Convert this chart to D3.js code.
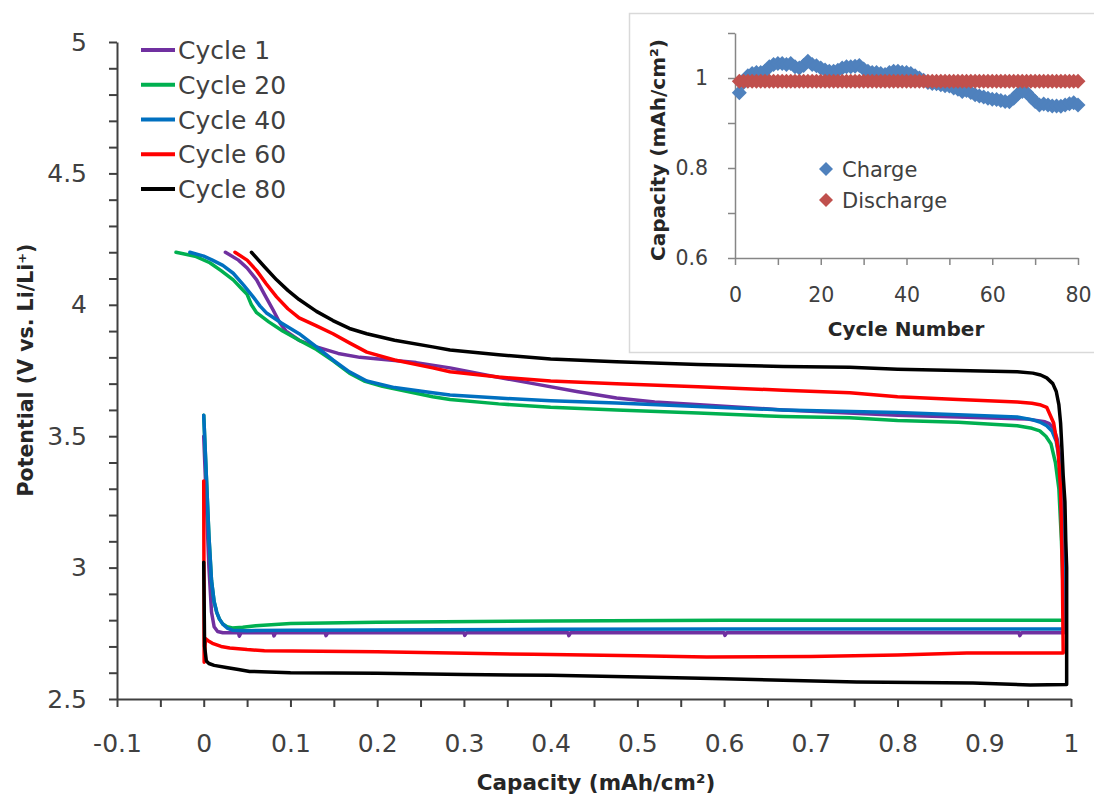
<!DOCTYPE html>
<html>
<head>
<meta charset="utf-8">
<script src="https://cdn.jsdelivr.net/npm/d3@7"></script>
<style>
  body { margin: 0; background: #fff; }
  svg { display: block; }
</style>
</head>
<body>
<svg id="chart" width="1094" height="797"></svg>
<script>
// ---- Voltage profiles: capacity (mAh/cm²) and potential (V vs. Li/Li⁺) ----
// Each profile runs down the discharge plateau, up the right edge, then back along the charge curve.
const cycleNames = ["Cycle 1", "Cycle 20", "Cycle 40", "Cycle 60", "Cycle 80"];
const cycleColors = ["#7030A0", "#00B050", "#0070C0", "#FF0000", "#000000"];

const cycle1Capacity = [0, 0.003, 0.006, 0.009, 0.012, 0.016, 0.022, 0.04, 0.041, 0.043, 0.08, 0.081, 0.083, 0.14, 0.141, 0.143, 0.2, 0.3, 0.301, 0.303, 0.42, 0.421, 0.423, 0.55, 0.6, 0.601, 0.603, 0.75, 0.9, 0.94, 0.941, 0.943, 0.992,
  0.9915, 0.991, 0.988, 0.984, 0.98, 0.975, 0.97, 0.95, 0.9, 0.8, 0.668, 0.572, 0.52, 0.476, 0.43, 0.38, 0.33, 0.284, 0.245, 0.18, 0.155, 0.13, 0.11, 0.095, 0.088, 0.08, 0.07, 0.061, 0.05, 0.04, 0.025];
const cycle1Potential = [3.50, 3.25, 3.0, 2.83, 2.775, 2.757, 2.752, 2.752, 2.739, 2.752, 2.752, 2.74, 2.752, 2.752, 2.741, 2.752, 2.752, 2.752, 2.742, 2.752, 2.752, 2.741, 2.752, 2.752, 2.752, 2.742, 2.752, 2.752, 2.752, 2.752, 2.741, 2.752, 2.752,
  3.0, 3.2, 3.4, 3.49, 3.53, 3.548, 3.555, 3.565, 3.57, 3.58, 3.60, 3.62, 3.63, 3.645, 3.67, 3.70, 3.73, 3.76, 3.78, 3.80, 3.815, 3.84, 3.865, 3.90, 3.93, 3.98, 4.04, 4.095, 4.14, 4.17, 4.20];

const cycle20Capacity = [0, 0.003, 0.006, 0.009, 0.012, 0.015, 0.018, 0.022, 0.027, 0.033, 0.045, 0.06, 0.1, 0.2, 0.4, 0.6, 0.8, 0.992,
  0.991, 0.989, 0.986, 0.982, 0.977, 0.971, 0.964, 0.955, 0.938, 0.87, 0.8, 0.745, 0.668, 0.57, 0.476, 0.4, 0.34, 0.284, 0.264, 0.235, 0.206, 0.185, 0.168, 0.15, 0.13, 0.11, 0.091, 0.075, 0.061, 0.055, 0.05, 0.044, 0.034, 0.02, 0.007, -0.01, -0.032];
const cycle20Potential = [3.58, 3.35, 3.12, 2.95, 2.87, 2.83, 2.805, 2.785, 2.775, 2.77, 2.773, 2.779, 2.787, 2.792, 2.797, 2.80, 2.80, 2.80,
  2.9, 3.1, 3.3, 3.40, 3.47, 3.50, 3.52, 3.53, 3.54, 3.553, 3.56, 3.57, 3.575, 3.588, 3.60, 3.61, 3.623, 3.64, 3.65, 3.67, 3.69, 3.71, 3.74, 3.785, 3.83, 3.865, 3.90, 3.935, 3.97, 4.0, 4.04, 4.06, 4.095, 4.13, 4.16, 4.185, 4.20];

const cycle40Capacity = [0, 0.003, 0.006, 0.009, 0.012, 0.015, 0.018, 0.022, 0.027, 0.033, 0.05, 0.1, 0.2, 0.4, 0.6, 0.8, 0.992,
  0.991, 0.989, 0.987, 0.983, 0.978, 0.972, 0.964, 0.955, 0.938, 0.87, 0.8, 0.668, 0.57, 0.476, 0.4, 0.34, 0.284, 0.264, 0.22, 0.188, 0.168, 0.149, 0.13, 0.11, 0.09, 0.072, 0.065, 0.057, 0.046, 0.034, 0.022, 0.01, 0, -0.016];
const cycle40Potential = [3.58, 3.35, 3.12, 2.95, 2.87, 2.83, 2.805, 2.785, 2.77, 2.762, 2.76, 2.762, 2.763, 2.765, 2.766, 2.766, 2.766,
  3.0, 3.2, 3.4, 3.48, 3.52, 3.54, 3.554, 3.563, 3.573, 3.582, 3.59, 3.60, 3.613, 3.626, 3.635, 3.645, 3.657, 3.665, 3.685, 3.71, 3.745, 3.79, 3.84, 3.89, 3.93, 3.97, 3.995, 4.03, 4.075, 4.12, 4.15, 4.17, 4.185, 4.20];

const cycle60Capacity = [0, 0.0005, 0.002, 0.005, 0.01, 0.02, 0.03, 0.05, 0.07, 0.2, 0.38, 0.5, 0.58, 0.7, 0.8, 0.88, 0.991,
  0.99, 0.988, 0.985, 0.98, 0.972, 0.964, 0.955, 0.938, 0.87, 0.8, 0.745, 0.668, 0.57, 0.476, 0.4, 0.34, 0.284, 0.264, 0.22, 0.188, 0.168, 0.149, 0.13, 0.11, 0.097, 0.084, 0.072, 0.061, 0.05, 0.036];
const cycle60Potential = [3.33, 2.64, 2.73, 2.722, 2.712, 2.70, 2.694, 2.688, 2.684, 2.68, 2.67, 2.665, 2.66, 2.662, 2.667, 2.675, 2.675,
  3.0, 3.3, 3.45, 3.55, 3.61, 3.62, 3.625, 3.63, 3.64, 3.65, 3.665, 3.675, 3.688, 3.70, 3.71, 3.725, 3.745, 3.76, 3.79, 3.82, 3.855, 3.89, 3.92, 3.95, 3.985, 4.03, 4.08, 4.13, 4.17, 4.20];

const cycle80Capacity = [0, 0.001, 0.003, 0.006, 0.012, 0.026, 0.04, 0.053, 0.1, 0.2, 0.3, 0.4, 0.503, 0.6, 0.753, 0.887, 0.953, 0.995,
  0.995, 0.994, 0.993, 0.991, 0.9896, 0.988, 0.986, 0.983, 0.979, 0.972, 0.965, 0.956, 0.938, 0.87, 0.8, 0.745, 0.668, 0.57, 0.476, 0.4, 0.34, 0.284, 0.264, 0.22, 0.188, 0.168, 0.149, 0.13, 0.11, 0.097, 0.084, 0.07, 0.055];
const cycle80Potential = [3.02, 2.70, 2.645, 2.635, 2.628, 2.62, 2.612, 2.605, 2.60, 2.598, 2.593, 2.59, 2.584, 2.577, 2.565, 2.561, 2.553, 2.555,
  3.0, 3.1, 3.25, 3.35, 3.45, 3.55, 3.62, 3.67, 3.70, 3.722, 3.733, 3.74, 3.745, 3.75, 3.755, 3.762, 3.765, 3.773, 3.783, 3.794, 3.81, 3.828, 3.84, 3.865, 3.89, 3.91, 3.94, 3.975, 4.02, 4.055, 4.095, 4.145, 4.20];

const capacityTicks = [-0.1, 0, 0.1, 0.2, 0.3, 0.4, 0.5, 0.6, 0.7, 0.8, 0.9, 1];
const capacityTickLabels = ["-0.1", "0", "0.1", "0.2", "0.3", "0.4", "0.5", "0.6", "0.7", "0.8", "0.9", "1"];
const potentialTicks = [2.5, 3, 3.5, 4, 4.5, 5];
const potentialTickLabels = ["2.5", "3", "3.5", "4", "4.5", "5"];

// ---- Inset: capacity per cycle ----
const chargeCapacity = [0.967, 0.99, 1.005, 1.01, 1.012, 1.012, 1.015, 1.025, 1.03, 1.032,
  1.032, 1.03, 1.032, 1.025, 1.022, 1.028, 1.037, 1.03, 1.027, 1.022,
  1.018, 1.015, 1.015, 1.017, 1.022, 1.025, 1.025, 1.026, 1.028, 1.02,
  1.015, 1.012, 1.012, 1.01, 1.008, 1.012, 1.015, 1.015, 1.013, 1.012,
  1.01, 1.005, 1.0, 0.995, 0.99, 0.988, 0.987, 0.985, 0.983, 0.982,
  0.978, 0.975, 0.97, 0.972, 0.968, 0.963, 0.96, 0.958, 0.955, 0.953,
  0.952, 0.95, 0.948, 0.947, 0.955, 0.965, 0.97, 0.968, 0.958, 0.948,
  0.94, 0.942, 0.94, 0.938, 0.938, 0.937, 0.94, 0.943, 0.945, 0.94];
const dischargeCapacity = [0.993, 0.993, 0.993, 0.993, 0.993, 0.993, 0.993, 0.993, 0.993, 0.993,
  0.993, 0.993, 0.993, 0.993, 0.993, 0.993, 0.993, 0.993, 0.993, 0.993,
  0.993, 0.993, 0.993, 0.993, 0.993, 0.993, 0.993, 0.993, 0.993, 0.993,
  0.993, 0.993, 0.993, 0.993, 0.993, 0.993, 0.993, 0.993, 0.993, 0.993,
  0.993, 0.993, 0.993, 0.993, 0.993, 0.993, 0.993, 0.993, 0.993, 0.993,
  0.993, 0.993, 0.993, 0.993, 0.993, 0.993, 0.993, 0.993, 0.993, 0.993,
  0.993, 0.993, 0.993, 0.993, 0.993, 0.993, 0.993, 0.993, 0.993, 0.993,
  0.993, 0.993, 0.993, 0.993, 0.993, 0.993, 0.993, 0.993, 0.993, 0.993];
const insetSeriesNames = ["Charge", "Discharge"];
const insetColors = ["#4F81BD", "#C0504D"];
const cycleTicks = [0, 20, 40, 60, 80];
const cycleMinorTicks = [10, 30, 50, 70];
const insetCapTicks = [0.6, 0.8, 1.0];
const insetCapTickLabels = ["0.6", "0.8", "1"];
const insetCapMinorTicks = [0.7, 0.9, 1.1];

// ---- Drawing ----
const FONT = "DejaVu Sans";
const TEXT = "#404040";
const svg = d3.select("#chart");
svg.append("rect").attr("width", 1094).attr("height", 797).attr("fill", "#fff");

const x = d3.scaleLinear().domain([-0.1, 1]).range([117, 1071]);
const y = d3.scaleLinear().domain([2.5, 5]).range([699, 42]);

const near = (arr, v) => arr.findIndex(t => Math.abs(t - v) < 1e-9);

function styleAxis(g, color, width, size) {
  g.attr("font-family", FONT).attr("font-size", size);
  g.select(".domain").attr("stroke", color).attr("stroke-width", width);
  g.selectAll(".tick line").attr("stroke", color).attr("stroke-width", width);
  g.selectAll(".tick text").attr("fill", TEXT);
}

const xMinor = capacityTicks.slice(0, -1).map(t => +(t + 0.05).toFixed(2));
const xAxis = d3.axisBottom(x)
  .tickValues(capacityTicks.concat(xMinor))
  .tickSize(8).tickSizeOuter(0).tickPadding(27)
  .tickFormat(v => { const i = near(capacityTicks, v); return i >= 0 ? capacityTickLabels[i] : ""; });
svg.append("g").attr("transform", "translate(0,699)").call(xAxis)
  .call(g => styleAxis(g, "#404040", 2, 25));

const yMinor = [];
potentialTicks.slice(0, -1).forEach(t => [0.1, 0.2, 0.3, 0.4].forEach(d => yMinor.push(+(t + d).toFixed(2))));
const yAxis = d3.axisLeft(y)
  .tickValues(potentialTicks.concat(yMinor))
  .tickSize(8).tickSizeOuter(0).tickPadding(22)
  .tickFormat(v => { const i = near(potentialTicks, v); return i >= 0 ? potentialTickLabels[i] : ""; });
svg.append("g").attr("transform", "translate(117,0)").call(yAxis)
  .call(g => styleAxis(g, "#404040", 2, 25));

// axis titles
svg.append("text")
  .attr("transform", "translate(33,370) rotate(-90)")
  .attr("text-anchor", "middle")
  .attr("font-family", FONT).attr("font-weight", "bold").attr("font-size", 20.5)
  .attr("fill", "#262626")
  .text("Potential (V vs. Li/Li⁺)");
svg.append("text")
  .attr("x", 596).attr("y", 790)
  .attr("text-anchor", "middle")
  .attr("font-family", FONT).attr("font-weight", "bold").attr("font-size", 21.5)
  .attr("fill", "#262626")
  .text("Capacity (mAh/cm²)");

// voltage curves
const cycles = [
  [cycle1Capacity, cycle1Potential],
  [cycle20Capacity, cycle20Potential],
  [cycle40Capacity, cycle40Potential],
  [cycle60Capacity, cycle60Potential],
  [cycle80Capacity, cycle80Potential]
].map(([c, p], i) => ({ name: cycleNames[i], color: cycleColors[i], pts: c.map((v, j) => [v, p[j]]) }));

const line = d3.line()
  .x(d => x(d[0])).y(d => y(d[1]))
  .curve(d3.curveLinear);

svg.append("g").selectAll("path").data(cycles).join("path")
  .attr("d", d => line(d.pts))
  .attr("fill", "none")
  .attr("stroke", d => d.color)
  .attr("stroke-width", 3.5)
  .attr("stroke-linejoin", "round")
  .attr("stroke-linecap", "round");

// legend
const legend = svg.append("g").selectAll("g").data(cycles).join("g")
  .attr("transform", (d, i) => `translate(141,${50 + i * 34.75})`);
legend.append("line").attr("x1", 0).attr("x2", 34).attr("y1", 0).attr("y2", 0)
  .attr("stroke", d => d.color).attr("stroke-width", 4);
legend.append("text").attr("x", 37).attr("y", 9)
  .attr("font-family", FONT).attr("font-size", 25).attr("fill", TEXT)
  .text(d => d.name);

// ---- inset panel ----
const inset = svg.append("g");
inset.append("rect")
  .attr("x", 629.5).attr("y", 13.5).attr("width", 480).attr("height", 339)
  .attr("fill", "#fff").attr("stroke", "#d9d9d9").attr("stroke-width", 1.5);

const xi = d3.scaleLinear().domain([0, 80]).range([735, 1078]);
const yi = d3.scaleLinear().domain([0.6, 1.1]).range([258, 33]);

const xiAxis = d3.axisBottom(xi)
  .tickValues(cycleTicks.concat(cycleMinorTicks))
  .tickSize(7).tickSizeOuter(0).tickPadding(22)
  .tickFormat(v => cycleTicks.includes(v) ? String(v) : "");
inset.append("g").attr("transform", "translate(0,258)").call(xiAxis)
  .call(g => styleAxis(g, "#868686", 1.5, 20.5));

const yiAxis = d3.axisLeft(yi)
  .tickValues(insetCapTicks.concat(insetCapMinorTicks))
  .tickSize(7).tickSizeOuter(0).tickPadding(20)
  .tickFormat(v => { const i = near(insetCapTicks, v); return i >= 0 ? insetCapTickLabels[i] : ""; });
inset.append("g").attr("transform", "translate(735,0)").call(yiAxis)
  .call(g => styleAxis(g, "#868686", 1.5, 20.5));

inset.append("text")
  .attr("x", 906).attr("y", 336)
  .attr("text-anchor", "middle")
  .attr("font-family", FONT).attr("font-weight", "bold").attr("font-size", 20)
  .attr("fill", "#262626")
  .text("Cycle Number");
inset.append("text")
  .attr("transform", "translate(665,150) rotate(-90)")
  .attr("text-anchor", "middle")
  .attr("font-family", FONT).attr("font-weight", "bold").attr("font-size", 20)
  .attr("fill", "#262626")
  .text("Capacity (mAh/cm²)");

const diamond = r => `M0,${-r}L${r},0L0,${r}L${-r},0Z`;
const insetSeries = [chargeCapacity, dischargeCapacity].map((vals, s) => ({
  name: insetSeriesNames[s], color: insetColors[s],
  pts: vals.map((v, i) => [i + 1, v])
}));

inset.selectAll("g.series").data(insetSeries).join("g").attr("class", "series")
  .attr("fill", d => d.color)
  .selectAll("path").data(d => d.pts).join("path")
  .attr("transform", d => `translate(${xi(d[0])},${yi(d[1])})`)
  .attr("d", diamond(7.5));

const iLegend = inset.selectAll("g.ileg").data(insetSeries).join("g").attr("class", "ileg")
  .attr("transform", (d, i) => `translate(826,${169 + i * 31})`);
iLegend.append("path").attr("d", diamond(7)).attr("fill", d => d.color);
iLegend.append("text").attr("x", 16).attr("y", 8)
  .attr("font-family", FONT).attr("font-size", 21).attr("fill", TEXT)
  .text(d => d.name);
</script>
</body>
</html>
